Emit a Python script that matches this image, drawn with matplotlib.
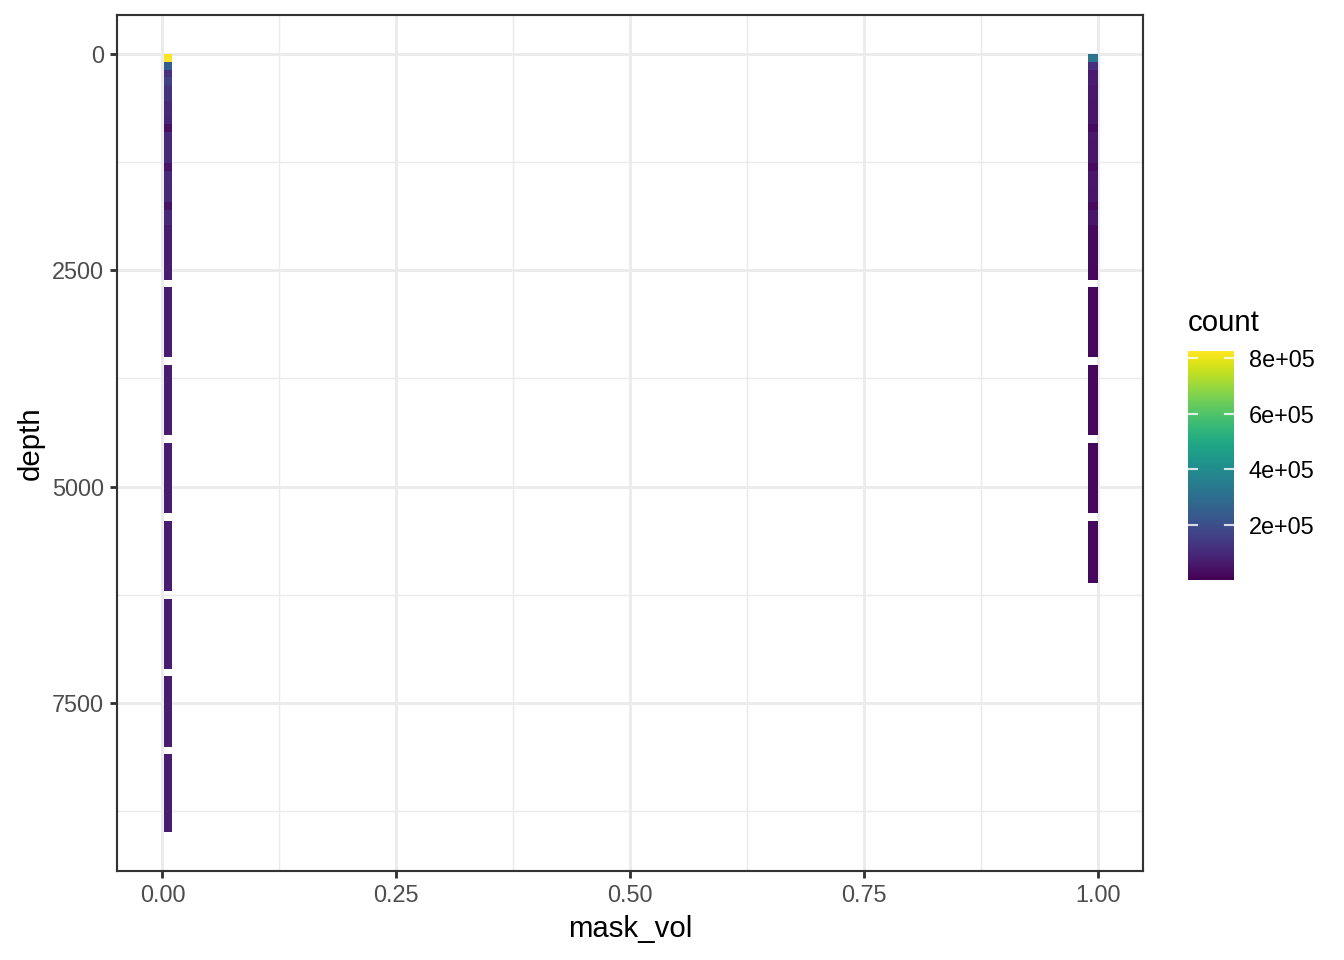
import numpy as np
import matplotlib
matplotlib.use("Agg")
import matplotlib.pyplot as plt
from matplotlib.colors import Normalize

plt.rcParams['font.family'] = ['Liberation Sans', 'DejaVu Sans']

# ---- data ----
# x bins of mask_vol (left edge, right edge)
mask_bins = [(0.0015, 0.0105), (0.9895, 1.0)]
# depth bin edges: first edge, bin width
depth_start = 5.0
depth_width = 89.85
# counts per depth bin (0 = empty bin)
counts_mask0 = [825000, 243000, 120000, 160000, 128000, 125000, 95000, 93000, 92000, 38000,
                98000, 97000, 96000, 95000, 45000, 100000, 99000, 98000, 97000, 44000,
                98000, 96000, 68000, 67000, 67000, 66000, 66000, 66000, 65000, 0,
                65000, 65000, 65000, 65000, 65000, 65000, 65000, 65000, 65000, 0,
                65000, 65000, 65000, 65000, 65000, 65000, 65000, 65000, 65000, 0,
                65000, 65000, 65000, 65000, 65000, 65000, 65000, 65000, 65000, 0,
                65000, 65000, 65000, 65000, 65000, 65000, 65000, 65000, 65000, 0,
                65000, 65000, 65000, 65000, 65000, 65000, 65000, 65000, 65000, 0,
                65000, 65000, 65000, 65000, 65000, 65000, 65000, 65000, 65000, 0,
                65000, 65000, 65000, 65000, 65000, 65000, 65000, 65000, 65000, 65000]
counts_mask1 = [317000, 112000, 62000, 70000, 55000, 55000, 54000, 54000, 53000, 26000,
                55000, 54000, 54000, 53000, 26000, 52000, 52000, 51000, 51000, 25000,
                49000, 48000, 24000, 23000, 23000, 23000, 23000, 22000, 22000, 0,
                22000, 22000, 22000, 22000, 22000, 22000, 22000, 22000, 22000, 0,
                22000, 22000, 22000, 22000, 22000, 22000, 22000, 22000, 22000, 0,
                22000, 22000, 22000, 22000, 22000, 22000, 22000, 22000, 22000, 0,
                22000, 22000, 22000, 22000, 22000, 22000, 22000, 21000]
count_limits = (3000, 825000)
count_ticks = [200000, 400000, 600000, 800000]
count_ticklabels = ["2e+05", "4e+05", "6e+05", "8e+05"]
x_ticks = [0.0, 0.25, 0.5, 0.75, 1.0]
x_ticklabels = ["0.00", "0.25", "0.50", "0.75", "1.00"]
y_ticks = [0, 2500, 5000, 7500]
y_ticklabels = ["0", "2500", "5000", "7500"]

# ---- figure ----
fig = plt.figure(figsize=(7, 5), dpi=192)
W, H = 1344, 960
ax = fig.add_axes([117 / W, 1 - 871 / H, (1143 - 117) / W, (871 - 15) / H])

cmap = plt.get_cmap('viridis')
norm = Normalize(vmin=count_limits[0], vmax=count_limits[1])

for (x0, x1), counts in zip(mask_bins, [counts_mask0, counts_mask1]):
    counts = np.asarray(counts, dtype=float)
    idx = np.nonzero(counts > 0)[0]
    bottoms = depth_start + idx * depth_width
    ax.bar(np.full(len(idx), x0), np.full(len(idx), depth_width), width=x1 - x0,
           bottom=bottoms, align='edge', color=cmap(norm(counts[idx])),
           linewidth=0, zorder=3)

ax.set_xlim(-0.0486, 1.0481)
ax.set_ylim(9439, -445)

grey20 = '#333333'
lw = 1.07
ax.set_xticks(x_ticks)
ax.set_xticklabels(x_ticklabels)
ax.set_yticks(y_ticks)
ax.set_yticklabels(y_ticklabels)
ax.set_xticks([0.125, 0.375, 0.625, 0.875], minor=True)
ax.set_yticks([1250, 3750, 6250, 8750], minor=True)
ax.tick_params(axis='both', which='major', length=2.75, width=lw,
               color=grey20, labelsize=8.8, labelcolor='#4d4d4d', pad=2.2)
ax.tick_params(axis='both', which='minor', length=0)
ax.grid(True, which='major', color='#ebebeb', linewidth=lw, zorder=0)
ax.grid(True, which='minor', color='#ebebeb', linewidth=lw / 2, zorder=0)
ax.set_axisbelow(True)
for s in ax.spines.values():
    s.set_color(grey20)
    s.set_linewidth(0.8)
    s.set_zorder(5)

ax.set_xlabel("mask_vol", fontsize=11, labelpad=2.75)
ax.set_ylabel("depth", fontsize=11, labelpad=2.75)

# ---- colorbar legend ----
cax = fig.add_axes([1188 / W, 1 - 580 / H, 46 / W, 229 / H])
grad = np.linspace(count_limits[0], count_limits[1], 300).reshape(-1, 1)
cax.imshow(grad, aspect='auto', cmap=cmap, norm=norm, origin='lower',
           extent=[0, 1, count_limits[0], count_limits[1]])
cax.set_xlim(0, 1)
cax.set_ylim(count_limits[0], count_limits[1])
for t in count_ticks:
    cax.plot([0, 0.2], [t, t], color='white', linewidth=0.8, alpha=0.8)
    cax.plot([0.8, 1.0], [t, t], color='white', linewidth=0.8, alpha=0.8)
cax.set_xticks([])
cax.set_yticks(count_ticks)
cax.set_yticklabels(count_ticklabels)
cax.yaxis.tick_right()
cax.tick_params(axis='y', length=0, labelsize=8.8, labelcolor='black', pad=5.5)
for s in cax.spines.values():
    s.set_visible(False)
fig.text(1188 / W, 1 - 323 / H, "count", fontsize=11, ha='left', va='center')

fig.savefig("out.png", dpi=192)
